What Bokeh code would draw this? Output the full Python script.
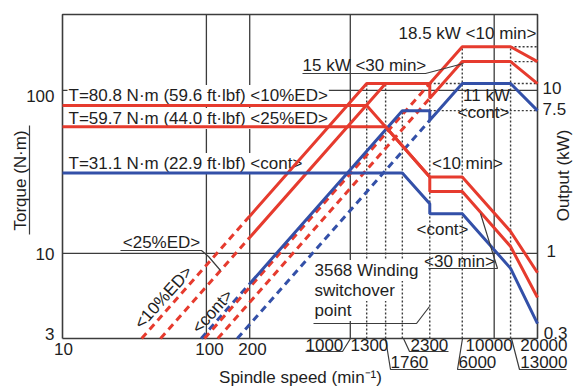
import math
from bokeh.plotting import figure
from bokeh.models import Range1d, LogScale, Label
from bokeh.embed import file_html
from bokeh.resources import INLINE

# ---------------- data ----------------
# Torque curves, N·m vs spindle speed, min^-1
t10_speed = [10, 1300, 3568, 6000, 13000, 20000]
t10_torque = [80.8, 80.8, 29.4, 29.4, 13.6, 7.6]
t25_speed = [10, 1760, 3568, 3568, 6000, 13000, 20000]
t25_torque = [59.7, 59.7, 29.4, 23.9, 23.9, 11.0, 5.35]
tc_speed = [10, 2300, 3568, 3568, 6000, 13000, 20000]
tc_torque = [31.1, 31.1, 20.1, 17.5, 17.5, 8.08, 3.7]

# Output curves, kW vs spindle speed
p10_speed = [200, 1300, 3568, 6000, 13000, 20000]
p10_kw = [1.69, 11, 11, 18.5, 18.5, 15]
p25_speed = [200, 1760, 3568, 3568, 6000, 13000, 20000]
p25_kw = [1.25, 11, 11, 8.93, 15, 15, 11]
pc_speed = [200, 2300, 3568, 3568, 6000, 13000, 20000]
pc_kw = [0.65, 7.5, 7.5, 6.54, 11, 11, 7.5]

# Dashed extensions of the output lines
low10_dash_speed = [35.5, 200]
low10_dash_kw = [0.3, 1.69]
low25_dash_speed = [48, 200]
low25_dash_kw = [0.3, 1.25]
lowc_dash_speed = [92, 200]
lowc_dash_kw = [0.3, 0.65]
hi10_dash_speed = [97, 3568]
hi10_dash_kw = [0.3, 11]
hi30_dash_speed = [120, 3568]
hi30_dash_kw = [0.3, 8.93]
hic_dash_speed = [164, 3568]
hic_dash_kw = [0.3, 6.54]

# Dotted reference lines
vdot_speed = [1300, 1760, 2300, 3568, 6000, 13000]
vdot_top_kw = [11, 11, 7.5, 11, 18.5, 18.5]
hdot_kw = [18.5, 15, 11, 7.5]
hdot_start = [13000, 13000, 3568, 3568]
hdot_end = [20000, 20000, 20000, 20000]

# Solid grid lines
grid_speed = [100, 200, 1000, 10000]
grid_torque = [10, 100]

# Axis limits of the chart box
X0, X1 = 10, 20000          # spindle speed
Y0, Y1 = 3, 291.8           # torque, N·m (output axis = torque / 10, kW)

RED = "#e63b2e"
BLUE = "#3350a8"
INK = "#1e1e1e"
GRID = "#3c3c3c"
FONT = "Liberation Sans"

W, H = 573, 389
# chart box on the page (pixels): x 62..537, y 14..338
FL, FR, FT, FB = 62.0, 537.0, 14.0, 338.0
def sx(px):
    return 10 ** (math.log10(X0) + (px - FL) / (FR - FL) * math.log10(X1 / X0))
def ty(py):
    return 10 ** (math.log10(Y0) + (FB - py) / (FB - FT) * math.log10(Y1 / Y0))

p = figure(width=W, height=H, x_axis_type="log", y_axis_type="log",
           x_range=Range1d(sx(0), sx(W)), y_range=Range1d(ty(H), ty(0)),
           x_axis_location=None, y_axis_location=None,
           toolbar_location=None, output_backend="svg",
           min_border=0)
p.extra_y_ranges = {"kw": Range1d(ty(H) / 10, ty(0) / 10)}
p.extra_y_scales = {"kw": LogScale()}
p.xgrid.visible = False
p.ygrid.visible = False
p.outline_line_color = None
p.background_fill_color = "white"
p.border_fill_color = "white"

# grid lines
p.segment(x0=grid_speed, y0=[Y0] * len(grid_speed), x1=grid_speed, y1=[Y1] * len(grid_speed),
          line_color=GRID, line_width=1.3, level="underlay")
p.segment(x0=[X0] * len(grid_torque), y0=grid_torque, x1=[X1] * len(grid_torque), y1=grid_torque,
          line_color=GRID, line_width=1.3, level="underlay")

# dotted lines
p.segment(x0=vdot_speed, y0=[Y0 / 10] * len(vdot_speed), x1=vdot_speed, y1=vdot_top_kw,
          y_range_name="kw", line_color=GRID, line_width=1.4, line_dash="2 2", level="underlay")
p.segment(x0=hdot_start, y0=hdot_kw, x1=hdot_end, y1=hdot_kw,
          y_range_name="kw", line_color=GRID, line_width=1.4, line_dash="2 2", level="underlay")

def lab(text, px, py, align="left", size="17px", angle=0.0, bg=None, level="annotation"):
    kw = dict(x=sx(px), y=ty(py), text=text, text_align=align, text_baseline="middle",
              text_font=FONT, text_font_size=size, text_color=INK, angle=angle, level=level)
    if bg:
        kw.update(background_fill_color="white", padding=1)
    p.add_layout(Label(**kw))

# labels with white background (under the curves)
lab("T=80.8 N·m (59.6 ft·lbf) <10%ED>", 67, 95, bg=True, level="underlay")
lab("T=59.7 N·m (44.0 ft·lbf) <25%ED>", 67, 118, bg=True, level="underlay")
lab("T=31.1 N·m (22.9 ft·lbf) <cont>", 67, 163, bg=True, level="underlay")
lab("3568 Winding", 313, 270, bg=True, level="underlay")
lab("switchover", 313, 290, bg=True, level="underlay")
lab("point", 313, 310, bg=True, level="underlay")

# chart box
p.line([X0, X1, X1, X0, X0], [Y0, Y0, Y1, Y1, Y0], line_color=GRID, line_width=1.6)

# dashed extensions
for xs, ys, c in [(low10_dash_speed, low10_dash_kw, RED), (low25_dash_speed, low25_dash_kw, RED),
                  (lowc_dash_speed, lowc_dash_kw, BLUE), (hi10_dash_speed, hi10_dash_kw, RED),
                  (hi30_dash_speed, hi30_dash_kw, RED), (hic_dash_speed, hic_dash_kw, BLUE)]:
    p.line(xs, ys, y_range_name="kw", line_color=c, line_width=3, line_dash="7 5")

# output curves
p.line(pc_speed, pc_kw, y_range_name="kw", line_color=BLUE, line_width=3)
p.line(p25_speed, p25_kw, y_range_name="kw", line_color=RED, line_width=3)
p.line(p10_speed, p10_kw, y_range_name="kw", line_color=RED, line_width=3)

# torque curves
p.line(tc_speed, tc_torque, line_color=BLUE, line_width=3)
p.line(t25_speed, t25_torque, line_color=RED, line_width=3)
p.line(t10_speed, t10_torque, line_color=RED, line_width=3)

# curve annotations
lab("18.5 kW <10 min>", 398, 33)
lab("15 kW <30 min>", 302, 65)
lab("11 kW", 486, 95, align="center")
lab("<cont>", 483, 112, align="center")
lab("<10 min>", 467, 163, align="center")
lab("<cont>", 442, 229, align="center")
lab("<30 min>", 459, 261, align="center")
lab("<25%ED>", 161, 242, align="center")
lab("<10%ED>", 163, 297, align="center", angle=math.radians(48))
lab("<cont>", 212, 311, align="center", angle=math.radians(48))

# tick labels
lab("100", 54, 95, align="right")
lab("10", 54, 253, align="right")
lab("3", 54, 333, align="right")
lab("10", 63, 348, align="center")
lab("100", 209, 348, align="center")
lab("200", 252, 348, align="center")
lab("1000", 305, 344)
lab("1300", 350, 344)
lab("1760", 390, 361)
lab("2300", 410, 344)
lab("10000", 465, 344)
lab("6000", 458, 361)
lab("20000", 567, 344, align="right")
lab("13000", 567, 361, align="right")
lab("10", 542, 87)
lab("7.5", 542, 108)
lab("1", 546, 250)
lab("0.3", 567, 332, align="right")

# axis titles
lab("Torque (N·m)", 20, 180, align="center", angle=math.pi / 2)
lab("Output (kW)", 563, 175, align="center", angle=math.pi / 2)
lab("Spindle speed (min⁻¹)", 300, 377, align="center")

# leader lines / underlines (page pixel polylines)
polylines = [
    [(305, 351), (342, 351), (350, 338)],
    [(385, 338), (390, 369), (428, 369)],
    [(403, 338), (409, 351), (448, 351)],
    [(462, 338), (457, 369), (490, 369)],
    [(511, 338), (519, 369), (566, 369)],
    [(120, 250), (201, 250), (208, 256), (220, 270)],
    [(302, 73), (425, 73), (463, 63)],
    [(428, 268), (497, 268), (480, 213)],
    [(313, 323), (416, 323), (429, 306)],
    [(29, 125), (29, 234)],
]
p.multi_line(xs=[[sx(a) for a, _ in pl] for pl in polylines],
             ys=[[ty(b) for _, b in pl] for pl in polylines],
             line_color=GRID, line_width=1.2)

open("out.html", "w").write(file_html(p, INLINE))
